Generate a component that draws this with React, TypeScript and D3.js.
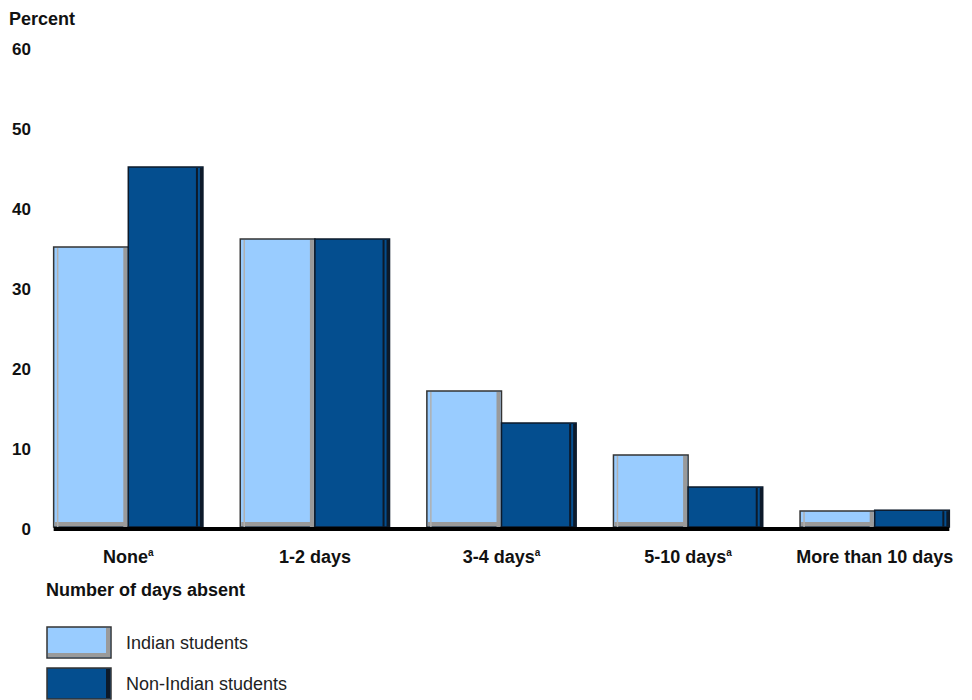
import React from "react";
import * as d3 from "d3";

const categories = ["None", "1-2 days", "3-4 days", "5-10 days", "More than 10 days"];
const superscripts = ["a", "", "a", "a", ""];
const indian = [35, 36, 17, 9, 2];
const nonIndian = [45, 36, 13, 5, 2.1];
const yTicks = [0, 10, 20, 30, 40, 50, 60];
const seriesNames = ["Indian students", "Non-Indian students"];

const W = 972;
const H = 700;
const FONT = "Arial, 'Liberation Sans', Helvetica, sans-serif";

export default function App() {
  const x = d3.scaleBand<string>().domain(categories).range([35, 968]).paddingInner(0.2).paddingOuter(0.1);
  const xs = d3.scaleBand<string>().domain(["i", "n"]).range([0, x.bandwidth()]);
  const y = d3.scaleLinear().domain([0, 60]).range([527, 47]);

  const lightFill = "#99ccff";
  const darkFill = "#044e8f";

  return (
    <div style={{ position: "absolute", left: 0, top: 0 }}>
      <svg width={W} height={H} style={{ display: "block", background: "#fff" }} fontFamily={FONT}>
        <text x={9} y={25} fontSize={18} fontWeight="bold" fill="#111">Percent</text>
        {yTicks.map((t) => (
          <text key={t} x={31} y={y(t) + 2} dy="0.35em" textAnchor="end" fontSize={17} fontWeight="bold" fill="#111">{t}</text>
        ))}
        {categories.map((c, i) => {
          const x0 = x(c)!;
          const bw = xs.bandwidth();
          const xi = x0 + xs("i")!;
          const xn = x0 + xs("n")!;
          const yi = y(indian[i]);
          const yn = y(nonIndian[i]);
          const base = y(0);
          return (
            <g key={c}>
              {/* Indian bar */}
              <rect x={xi} y={yi} width={bw} height={base - yi} fill={lightFill} stroke="#333" strokeWidth={1.5} />
              <rect x={xi + bw - 5} y={yi + 1} width={4} height={base - yi - 1} fill="#9a9a9a" />
              <rect x={xi + 1} y={base - 5} width={bw - 2} height={4} fill="#9a9a9a" />
              <line x1={xi + 4} x2={xi + 4} y1={yi + 1} y2={base} stroke="#b0b0b0" strokeWidth={1.5} />
              {/* Non-Indian bar */}
              <rect x={xn} y={yn} width={bw} height={base - yn} fill={darkFill} stroke="#0d1a2a" strokeWidth={1.5} />
              <rect x={xn + bw - 7} y={yn + 1} width={2} height={base - yn - 1} fill="#0d1a2a" />
              <rect x={xn + bw - 3} y={yn + 1} width={3} height={base - yn - 1} fill="#0d1a2a" />
              <text x={x0 + x.bandwidth() / 2} y={563} textAnchor="middle" fontSize={18} fontWeight="bold" fill="#111">
                {c}
                {superscripts[i] && (
                  <tspan fontSize={10} dy={-7}>{superscripts[i]}</tspan>
                )}
              </text>
            </g>
          );
        })}
        <rect x={x(categories[0])!} y={y(0)} width={x(categories[4])! + x.bandwidth() - x(categories[0])!} height={4} fill="#000" />
        <text x={46} y={596} fontSize={18} fontWeight="bold" fill="#111">Number of days absent</text>
        {seriesNames.map((s, i) => {
          const ly = 627 + i * 41;
          return (
            <g key={s}>
              <rect x={47} y={ly} width={64} height={31} fill={i === 0 ? lightFill : darkFill} stroke="#333" strokeWidth={1.5} />
              <rect x={106} y={ly + 1} width={4} height={29} fill={i === 0 ? "#9a9a9a" : "#0d1a2a"} />
              {i === 0 && <rect x={48} y={ly + 26} width={62} height={4} fill="#9a9a9a" />}
              <text x={126} y={ly + 16} dy="0.35em" fontSize={18} fill="#222">{s}</text>
            </g>
          );
        })}
      </svg>
    </div>
  );
}
